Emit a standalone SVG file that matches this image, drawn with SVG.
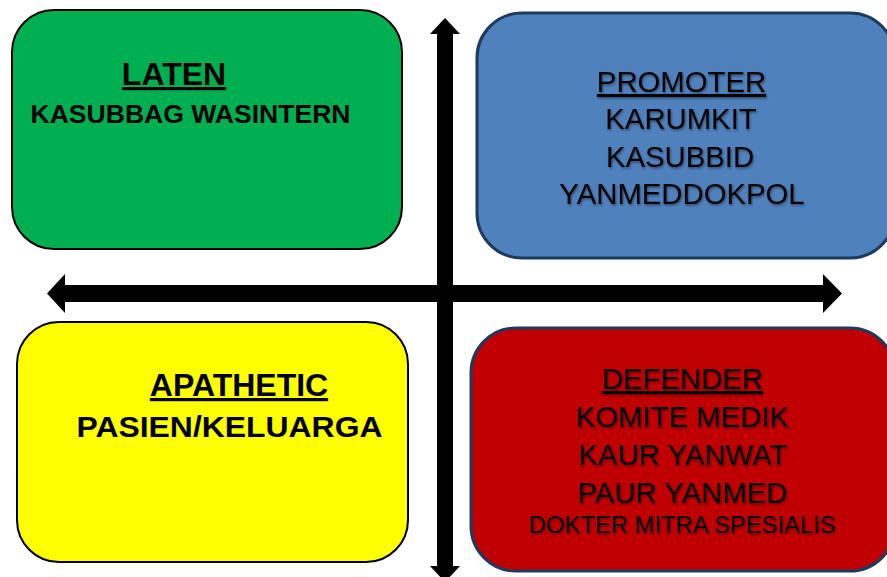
<svg xmlns="http://www.w3.org/2000/svg" width="887" height="577" viewBox="0 0 887 577">
<defs>
<style>
text{font-family:"Liberation Sans",Arial,sans-serif;fill:#000;text-anchor:middle}
.b{font-weight:bold}
.u{text-decoration:underline}
.dark{stroke:#1F3A5F;stroke-width:3}
.blk{stroke:#000;stroke-width:2}
.arrow{fill:#000}
</style>
<filter id="sh" x="-10%" y="-30%" width="120%" height="160%">
<feDropShadow dx="1" dy="1.5" stdDeviation="1" flood-color="#000" flood-opacity="0.45"/>
</filter>
</defs>
<rect width="887" height="577" fill="#fff"/>
<g id="connectors">
<polygon class="arrow" points="445,18 460,34 453,34 453,566 460,566 445,582 430,566 437,566 437,34 430,34"/>
<polygon class="arrow" points="47,293.5 65,274 65,285 823,285 823,274 842,293.5 823,313 823,302 65,302 65,313"/>
</g>
<g id="laten">
<rect class="blk" x="12" y="10" width="390" height="239" rx="42" fill="#00B050"/>
<text class="b u" x="174" y="85" font-size="32">LATEN</text>
<text class="b" x="190.5" y="122.5" font-size="26.5" textLength="320" lengthAdjust="spacingAndGlyphs">KASUBBAG WASINTERN</text>
</g>
<g id="promoter">
<rect class="dark" x="477" y="13" width="418" height="245" rx="45" fill="#4F81BD"/>
<g filter="url(#sh)" font-size="29.3">
<text class="u" x="681.5" y="92">PROMOTER</text>
<text x="681" y="128.5">KARUMKIT</text>
<text x="680" y="166.5">KASUBBID</text>
<text x="682" y="204">YANMEDDOKPOL</text>
</g>
</g>
<g id="apathetic">
<rect class="blk" x="17" y="322" width="391" height="240" rx="42" fill="#FFFF00"/>
<text class="b u" x="239" y="396" font-size="32">APATHETIC</text>
<text class="b" x="229.5" y="437" font-size="30" textLength="306" lengthAdjust="spacingAndGlyphs">PASIEN/KELUARGA</text>
</g>
<g id="defender">
<rect class="dark" x="471" y="328" width="424" height="243" rx="45" fill="#C00000"/>
<g filter="url(#sh)" font-size="29.3">
<text class="u" x="682.5" y="389">DEFENDER</text>
<text x="682.5" y="427">KOMITE MEDIK</text>
<text x="683" y="465">KAUR YANWAT</text>
<text x="682.5" y="503">PAUR YANMED</text>
<text x="682.5" y="533" font-size="23.8">DOKTER MITRA SPESIALIS</text>
</g>
</g>
</svg>
